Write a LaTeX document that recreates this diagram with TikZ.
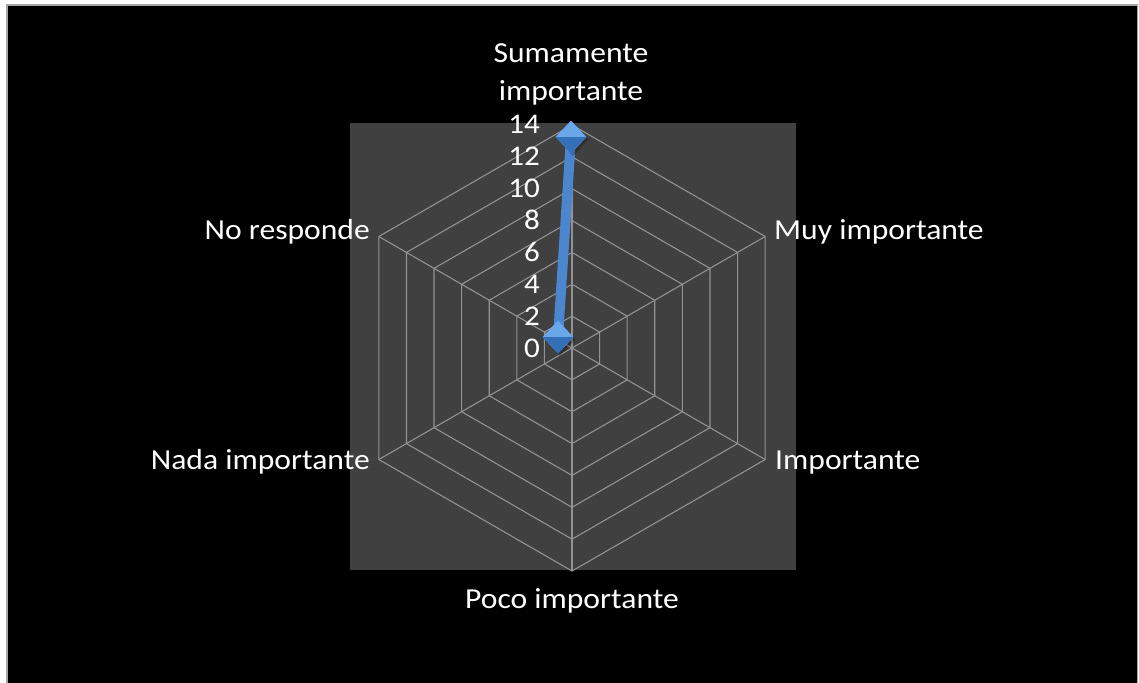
\documentclass[tikz,border=0pt]{standalone}
\usepackage{fontspec}
\setmainfont{Carlito}[FakeStretch=1.09]
\usetikzlibrary{shapes.geometric}
\definecolor{plotbg}{HTML}{404040}
\definecolor{gridc}{HTML}{929292}
\definecolor{serie}{HTML}{4C86CE}
\definecolor{mlight}{HTML}{6AA6EA}
\definecolor{mdark}{HTML}{3470B8}
\definecolor{framec}{HTML}{A6A6A6}
\tikzset{
  lbl/.style={text=white, inner sep=0pt, font=\fontsize{29}{37}\selectfont},
  ticklbl/.style={text=white, inner sep=0pt, font=\fontsize{28.5}{34}\selectfont, anchor=base east},
  gridline/.style={draw=gridc, line width=1.1pt},
  serieline/.style={draw=serie, line width=10pt},
  marker/.style={diamond, inner sep=0pt, minimum width=31pt, minimum height=33pt,
    fill=mlight,
    path picture={\fill[mdark] (path picture bounding box.west) -- (path picture bounding box.east) -- (path picture bounding box.south) -- cycle;}},
}
\begin{document}
\begin{tikzpicture}[x=1pt,y=-1pt]
\useasboundingbox (0,0) rectangle (1139,682);
\fill[white] (0,0) rectangle (1139,682);
\filldraw[fill=black, draw=framec, line width=1.5pt] (7,5) rectangle (1137.5,690);
% plot area
\fill[plotbg] (350,123) rectangle (796,570);
% grid
\begin{scope}[shift={(572,348)}]
\foreach \k in {1,...,7}{
  \pgfmathsetmacro{\r}{\k*31.86}
  \draw[gridline] (90:\r) -- (30:\r) -- (-30:\r) -- (-90:\r) -- (-150:\r) -- (150:\r) -- cycle;
}
\foreach \a in {90,30,-30,-90,-150,150}{
  \draw[gridline] (0,0) -- (\a:223.02);
}
\end{scope}
% tick labels
\foreach \v [count=\i from 0] in {0,2,4,6,8,10,12,14}{
  \node[ticklbl] (t\v) at (540,{357-\i*31.86}) {\v};
}
% axis labels
\node[lbl, align=center, anchor=base] (sum) at (571,100) {Sumamente\\importante};
\node[lbl, anchor=base west] (muy) at (774,239) {Muy importante};
\node[lbl, anchor=base west] (imp) at (775,469) {Importante};
\node[lbl, anchor=base] (poco) at (572,608) {Poco importante};
\node[lbl, anchor=base east] (nada) at (370,469) {Nada importante};
\node[lbl, anchor=base east] (nor) at (370,239) {No responde};
% series
\coordinate (a) at (571,137);
\coordinate (b) at (558,337);
\draw[serieline] (a) -- (b);
\fill[black, opacity=0.25] (573,123) -- ++(15.5,16.5) -- ++(-15.5,16.5) -- ++(-15.5,-16.5) -- cycle;
\fill[black, opacity=0.25] (560,323) -- ++(15.5,16.5) -- ++(-15.5,16.5) -- ++(-15.5,-16.5) -- cycle;
\node[marker] (ma) at (a) {};
\node[marker] (mb) at (b) {};
\end{tikzpicture}
\end{document}
